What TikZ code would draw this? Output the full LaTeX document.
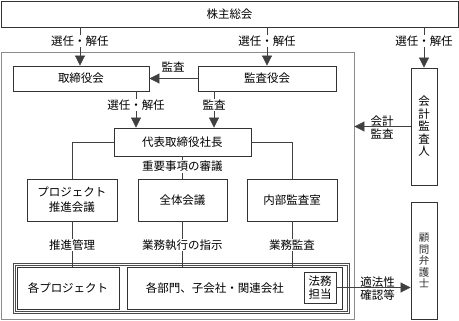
\documentclass[tikz,border=0pt]{standalone}
\usepackage{fontspec}
\setmainfont{Noto Sans CJK JP}
\usetikzlibrary{arrows.meta}
\begin{document}
\begin{tikzpicture}[x=1pt,y=-1pt,
  box/.style={draw=black!80, line width=0.8pt, fill=white, inner sep=0pt, rectangle, font=\fontsize{11.5}{15}\selectfont, align=center},
  framebox/.style={draw=black!45, line width=0.8pt, inner sep=0pt, rectangle},
  conn/.style={draw=black!75, line width=0.7pt},
  arr/.style={conn, -{Triangle[width=10pt,length=10pt]}},
  lbl/.style={fill=white, inner sep=1pt, font=\fontsize{11.5}{13}\selectfont},
  lbl2/.style={inner sep=0pt, align=center, font=\fontsize{11.5}{13}\selectfont},
  vtext/.style={align=center, inner sep=0pt, font=\fontsize{11.5}{12.5}\selectfont}
]
\useasboundingbox (0,0) rectangle (459,321);

% outer frame
\node[framebox, minimum width=353pt, minimum height=267pt] (fr) at (177.5,185.5) {};

% group double frame
\node[draw=black!70, line width=0.6pt, inner sep=0pt, minimum width=336pt, minimum height=50pt] (grp) at (181,288) {};
\node[draw=black!70, line width=0.6pt, inner sep=0pt, minimum width=332pt, minimum height=46pt] (grpi) at (181,288) {};

% boxes
\node[box, minimum width=457pt, minimum height=26pt] (sh) at (229.5,14) {株主総会};
\node[box, minimum width=136pt, minimum height=25pt] (tb) at (81,78.5) {取締役会};
\node[box, minimum width=138pt, minimum height=25pt] (ka) at (267,78.5) {監査役会};
\node[box, minimum width=137pt, minimum height=28pt] (dh) at (182.5,142) {代表取締役社長};
\node[box, minimum width=90pt, minimum height=42pt] (pj) at (72,200) {プロジェクト\\推進会議};
\node[box, minimum width=89pt, minimum height=42pt] (zt) at (182.5,200) {全体会議};
\node[box, minimum width=90pt, minimum height=42pt] (nb) at (292,200) {内部監査室};
\node[box, minimum width=102pt, minimum height=42pt] (kp) at (68,288) {各プロジェクト};
\node[box, minimum width=215pt, minimum height=42pt] (kb) at (234.5,288) {};
\node[inner sep=0pt, font=\fontsize{11.5}{13}\selectfont] (kbt) at (215,288) {各部門、子会社・関連会社};
\node[box, minimum width=32pt, minimum height=31pt, font=\fontsize{11.5}{12.5}\selectfont] (hm) at (320,287.5) {法務\\担当};
\node[box, minimum width=26pt, minimum height=117pt, vtext] (kk) at (424,126.5) {会\\計\\監\\査\\人};
\node[box, minimum width=26pt, minimum height=117pt, align=center, font=\fontsize{10.5}{11.5}\selectfont, text=black!80] (kg) at (424,260.5) {顧\\問\\弁\\護\\士};

% connectors from shareholders
\draw[arr] (sh.south -| tb.north) ++(-1,0) coordinate (s1) -- (s1 |- tb.north);
\node[lbl] (l1) at (80,41) {選任・解任};
\draw[arr] (sh.south -| ka.north) -- (ka.north);
\node[lbl] (l2) at (267,41) {選任・解任};
\draw[arr] (sh.south -| kk.north) -- (kk.north);
\node[lbl] (l3) at (424,41) {選任・解任};

% audit board -> board
\draw[arr] (ka.west) -- (tb.east);
\node[lbl2] (l4) at (173,67) {監査};

% board / audit -> president
\draw[arr] ([xshift=55pt]tb.south) coordinate (s2) -- (s2 |- dh.north);
\node[lbl] (l5) at (136,105) {選任・解任};
\draw[arr] ([xshift=-53pt]ka.south) coordinate (s3) -- (s3 |- dh.north);
\node[lbl] (l6) at (214,105) {監査};

% president -> committees
\draw[conn] (dh.west) -| (pj.north);
\draw[conn] (dh.east) -| (nb.north);
\draw[conn] (dh.south) -- (zt.north);
\node[lbl] (l7) at (182.5,166.5) {重要事項の審議};

% committees -> operating units
\draw[conn] (pj.south) -- (pj.south |- kp.north);
\node[lbl] (l8) at (72,245) {推進管理};
\draw[conn] (zt.south) -- (zt.south |- kb.north);
\node[lbl] (l9) at (182.5,245) {業務執行の指示};
\draw[conn] (nb.south) -- (nb.south |- kb.north);
\node[lbl] (l10) at (292,245) {業務監査};

% accounting auditor -> frame
\draw[arr] (kk.west) -- (kk.west -| fr.east);
\node[lbl2] (l11) at (382,127.5) {会計\\監査};

% legal -> lawyer
\draw[arr] (hm.east) -- (hm.east -| kg.west);
\node[lbl2] (l12) at (377.5,289) {適法性\\確認等};
\end{tikzpicture}
\end{document}
